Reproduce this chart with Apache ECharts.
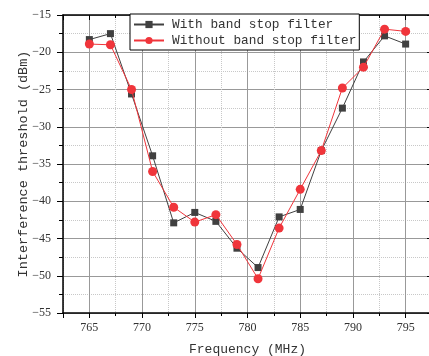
<!DOCTYPE html>
<html>
<head>
<meta charset="utf-8">
<script src="https://cdn.jsdelivr.net/npm/echarts@6/dist/echarts.min.js"></script>
<style>
html,body{margin:0;padding:0;background:#fff;}
#chart{width:429px;height:356px;}
</style>
</head>
<body>
<div id="chart"></div>
<script>
var frequencies = [765, 767, 769, 771, 773, 775, 777, 779, 781, 783, 785, 787, 789, 791, 793, 795];
var withFilter = [-18.3, -17.5, -25.6, -33.9, -42.9, -41.5, -42.7, -46.3, -48.9, -42.1, -41.1, -33.2, -27.5, -21.3, -17.8, -18.9];
var withoutFilter = [-18.9, -19.0, -25.0, -36.0, -40.8, -42.8, -41.8, -45.8, -50.4, -43.6, -38.4, -33.2, -24.8, -22.0, -16.9, -17.2];
var seriesNames = ['With band stop filter', 'Without band stop filter'];
var xTitle = 'Frequency (MHz)';
var yTitle = 'Interference threshold (dBm)';

function pairs(xs, ys) { return xs.map(function (x, i) { return [x, ys[i]]; }); }

var chart = echarts.init(document.getElementById('chart'), null, {renderer: 'canvas'});
var axisLineStyle = {color: '#000', width: 1.5};
var labelFont = {fontFamily: 'Liberation Serif', fontSize: 12, color: '#333'};
var xMin = 762.5, xMax = 797.5;

chart.setOption({
  animation: false,
  backgroundColor: '#fff',
  grid: {left: 63, width: 369, top: 15, bottom: 43, containLabel: false, outerBoundsMode: 'none'},
  legend: {
    data: seriesNames,
    orient: 'vertical',
    left: 130, top: 14,
    padding: [4, 3, 3, 3],
    itemGap: 3,
    itemWidth: 30, itemHeight: 9,
    borderColor: '#000', borderWidth: 1,
    backgroundColor: '#fff',
    textStyle: {fontFamily: 'Liberation Mono', fontSize: 12.8, color: '#333', padding: [0, 0, 0, 3]}
  },
  xAxis: [
    {
      type: 'value', position: 'bottom', min: xMin, max: xMax, splitNumber: 7,
      name: xTitle, nameLocation: 'middle', nameGap: 30, nameMoveOverlap: false,
      nameTextStyle: {fontFamily: 'Liberation Mono', fontSize: 13, color: '#333', fontWeight: 'normal'},
      axisLine: {show: true, lineStyle: axisLineStyle},
      axisTick: {show: true, inside: false, length: 5, lineStyle: {color: '#000'}},
      axisLabel: Object.assign({margin: 9, formatter: function (v) { return (Math.abs(v % 5) < 1e-6) ? String(v) : ''; }}, labelFont),
      splitLine: {show: true, lineStyle: {color: '#999', width: 1}}
    },
    {
      type: 'value', position: 'bottom', min: xMin, max: xMax, interval: 5,
      axisLine: {show: false},
      axisTick: {show: true, inside: false, length: 3, lineStyle: {color: '#000'}},
      axisLabel: {show: false},
      splitLine: {show: true, lineStyle: {color: '#c8c8c8', type: 'dotted', width: 1}}
    },
    {
      type: 'value', position: 'top', min: xMin, max: xMax, splitNumber: 7,
      axisLine: {show: true, lineStyle: axisLineStyle},
      axisTick: {show: true, inside: true, length: 5, lineStyle: {color: '#000'}},
      axisLabel: {show: false},
      splitLine: {show: false}
    },
    {
      type: 'value', position: 'top', min: xMin, max: xMax, interval: 5,
      axisLine: {show: false},
      axisTick: {show: true, inside: true, length: 3, lineStyle: {color: '#000'}},
      axisLabel: {show: false},
      splitLine: {show: false}
    }
  ],
  yAxis: [
    {
      type: 'value', position: 'left', min: -55, max: -15, interval: 5,
      name: yTitle, nameLocation: 'middle', nameGap: 33, nameRotate: 90, nameMoveOverlap: false,
      nameTextStyle: {fontFamily: 'Liberation Mono', fontSize: 13.5, color: '#333', fontWeight: 'normal'},
      axisLine: {show: true, lineStyle: axisLineStyle},
      axisTick: {show: true, inside: false, length: 6, lineStyle: {color: '#000'}},
      minorTick: {show: true, splitNumber: 2, length: 4, lineStyle: {color: '#000'}},
      minorSplitLine: {show: true, lineStyle: {color: '#c8c8c8', type: 'dotted', width: 1}},
      axisLabel: Object.assign({margin: 12, formatter: function (v) { return String(v).replace('-', '\u2212'); }}, labelFont),
      splitLine: {show: true, lineStyle: {color: '#999', width: 1}}
    },
    {
      type: 'value', position: 'right', min: -55, max: -15, interval: 5,
      axisLine: {show: true, lineStyle: axisLineStyle},
      axisTick: {show: true, inside: true, length: 5, lineStyle: {color: '#000'}},
      minorTick: {show: true, splitNumber: 2, length: 3, lineStyle: {color: '#000'}},
      axisLabel: {show: false},
      splitLine: {show: false}
    }
  ],
  series: [
    {
      name: seriesNames[0], type: 'line', xAxisIndex: 0, yAxisIndex: 0,
      data: pairs(frequencies, withFilter),
      symbol: 'rect', symbolSize: 7,
      itemStyle: {color: '#404040'},
      lineStyle: {color: '#404040', width: 1},
      z: 3
    },
    {
      name: seriesNames[1], type: 'line', xAxisIndex: 0, yAxisIndex: 0,
      data: pairs(frequencies, withoutFilter),
      symbol: 'circle', symbolSize: 9,
      itemStyle: {color: '#f0353b'},
      lineStyle: {color: '#f0353b', width: 1},
      z: 4
    }
  ]
});
</script>
</body>
</html>
